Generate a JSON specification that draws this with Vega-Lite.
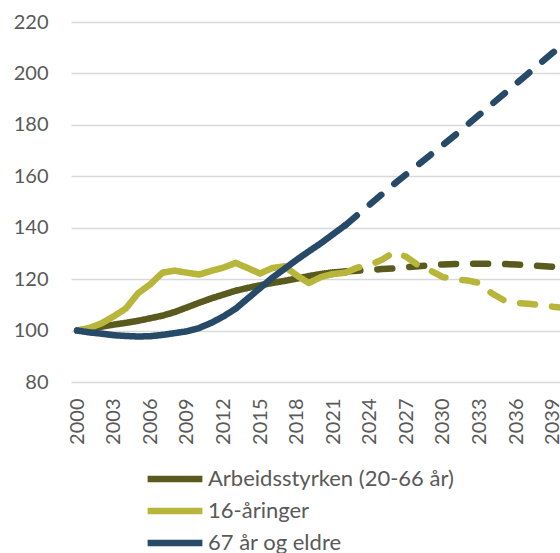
{
  "$schema": "https://vega.github.io/schema/vega-lite/v6.json",
  "width": 489,
  "height": 360,
  "autosize": {"type": "none"},
  "padding": {"left": 71, "top": 22, "right": 0, "bottom": 171},
  "background": "white",
  "config": {
    "view": {"stroke": null},
    "font": "Lato",
    "axis": {"labelFont": "Lato", "labelFontSize": 20, "labelColor": "#595959"}
  },
  "data": {
    "values": [
      {"series": "Arbeidsstyrken (20-66 år)", "phase": "hist", "year": 2000, "value": 100},
      {"series": "Arbeidsstyrken (20-66 år)", "phase": "hist", "year": 2001, "value": 100.6},
      {"series": "Arbeidsstyrken (20-66 år)", "phase": "hist", "year": 2002, "value": 101.5},
      {"series": "Arbeidsstyrken (20-66 år)", "phase": "hist", "year": 2003, "value": 102.3},
      {"series": "Arbeidsstyrken (20-66 år)", "phase": "hist", "year": 2004, "value": 103},
      {"series": "Arbeidsstyrken (20-66 år)", "phase": "hist", "year": 2005, "value": 103.8},
      {"series": "Arbeidsstyrken (20-66 år)", "phase": "hist", "year": 2006, "value": 104.8},
      {"series": "Arbeidsstyrken (20-66 år)", "phase": "hist", "year": 2007, "value": 105.8},
      {"series": "Arbeidsstyrken (20-66 år)", "phase": "hist", "year": 2008, "value": 107.2},
      {"series": "Arbeidsstyrken (20-66 år)", "phase": "hist", "year": 2009, "value": 109},
      {"series": "Arbeidsstyrken (20-66 år)", "phase": "hist", "year": 2010, "value": 110.8},
      {"series": "Arbeidsstyrken (20-66 år)", "phase": "hist", "year": 2011, "value": 112.5},
      {"series": "Arbeidsstyrken (20-66 år)", "phase": "hist", "year": 2012, "value": 114},
      {"series": "Arbeidsstyrken (20-66 år)", "phase": "hist", "year": 2013, "value": 115.5},
      {"series": "Arbeidsstyrken (20-66 år)", "phase": "hist", "year": 2014, "value": 116.6},
      {"series": "Arbeidsstyrken (20-66 år)", "phase": "hist", "year": 2015, "value": 117.6},
      {"series": "Arbeidsstyrken (20-66 år)", "phase": "hist", "year": 2016, "value": 118.5},
      {"series": "Arbeidsstyrken (20-66 år)", "phase": "hist", "year": 2017, "value": 119.3},
      {"series": "Arbeidsstyrken (20-66 år)", "phase": "hist", "year": 2018, "value": 120.2},
      {"series": "Arbeidsstyrken (20-66 år)", "phase": "hist", "year": 2019, "value": 121.2},
      {"series": "Arbeidsstyrken (20-66 år)", "phase": "hist", "year": 2020, "value": 122},
      {"series": "Arbeidsstyrken (20-66 år)", "phase": "hist", "year": 2021, "value": 122.6},
      {"series": "Arbeidsstyrken (20-66 år)", "phase": "hist", "year": 2022, "value": 123},
      {"series": "Arbeidsstyrken (20-66 år)", "phase": "proj", "year": 2022, "value": 123},
      {"series": "Arbeidsstyrken (20-66 år)", "phase": "proj", "year": 2023, "value": 123.3},
      {"series": "Arbeidsstyrken (20-66 år)", "phase": "proj", "year": 2024, "value": 123.6},
      {"series": "Arbeidsstyrken (20-66 år)", "phase": "proj", "year": 2025, "value": 123.9},
      {"series": "Arbeidsstyrken (20-66 år)", "phase": "proj", "year": 2026, "value": 124.2},
      {"series": "Arbeidsstyrken (20-66 år)", "phase": "proj", "year": 2027, "value": 124.6},
      {"series": "Arbeidsstyrken (20-66 år)", "phase": "proj", "year": 2028, "value": 125},
      {"series": "Arbeidsstyrken (20-66 år)", "phase": "proj", "year": 2029, "value": 125.4},
      {"series": "Arbeidsstyrken (20-66 år)", "phase": "proj", "year": 2030, "value": 125.7},
      {"series": "Arbeidsstyrken (20-66 år)", "phase": "proj", "year": 2031, "value": 125.9},
      {"series": "Arbeidsstyrken (20-66 år)", "phase": "proj", "year": 2032, "value": 126},
      {"series": "Arbeidsstyrken (20-66 år)", "phase": "proj", "year": 2033, "value": 126},
      {"series": "Arbeidsstyrken (20-66 år)", "phase": "proj", "year": 2034, "value": 126},
      {"series": "Arbeidsstyrken (20-66 år)", "phase": "proj", "year": 2035, "value": 125.9},
      {"series": "Arbeidsstyrken (20-66 år)", "phase": "proj", "year": 2036, "value": 125.7},
      {"series": "Arbeidsstyrken (20-66 år)", "phase": "proj", "year": 2037, "value": 125.4},
      {"series": "Arbeidsstyrken (20-66 år)", "phase": "proj", "year": 2038, "value": 125.1},
      {"series": "Arbeidsstyrken (20-66 år)", "phase": "proj", "year": 2039, "value": 124.8},
      {"series": "Arbeidsstyrken (20-66 år)", "phase": "proj", "year": 2040, "value": 124.6},
      {"series": "16-åringer", "phase": "hist", "year": 2000, "value": 100},
      {"series": "16-åringer", "phase": "hist", "year": 2001, "value": 101},
      {"series": "16-åringer", "phase": "hist", "year": 2002, "value": 102.8},
      {"series": "16-åringer", "phase": "hist", "year": 2003, "value": 105.5},
      {"series": "16-åringer", "phase": "hist", "year": 2004, "value": 108.6},
      {"series": "16-åringer", "phase": "hist", "year": 2005, "value": 114.5},
      {"series": "16-åringer", "phase": "hist", "year": 2006, "value": 118},
      {"series": "16-åringer", "phase": "hist", "year": 2007, "value": 122.5},
      {"series": "16-åringer", "phase": "hist", "year": 2008, "value": 123.3},
      {"series": "16-åringer", "phase": "hist", "year": 2009, "value": 122.5},
      {"series": "16-åringer", "phase": "hist", "year": 2010, "value": 121.8},
      {"series": "16-åringer", "phase": "hist", "year": 2011, "value": 123.2},
      {"series": "16-åringer", "phase": "hist", "year": 2012, "value": 124.5},
      {"series": "16-åringer", "phase": "hist", "year": 2013, "value": 126.3},
      {"series": "16-åringer", "phase": "hist", "year": 2014, "value": 124.3},
      {"series": "16-åringer", "phase": "hist", "year": 2015, "value": 122.2},
      {"series": "16-åringer", "phase": "hist", "year": 2016, "value": 124.3},
      {"series": "16-åringer", "phase": "hist", "year": 2017, "value": 125},
      {"series": "16-åringer", "phase": "hist", "year": 2018, "value": 121.5},
      {"series": "16-åringer", "phase": "hist", "year": 2019, "value": 118.5},
      {"series": "16-åringer", "phase": "hist", "year": 2020, "value": 120.8},
      {"series": "16-åringer", "phase": "hist", "year": 2021, "value": 122},
      {"series": "16-åringer", "phase": "hist", "year": 2022, "value": 122.5},
      {"series": "16-åringer", "phase": "proj", "year": 2022, "value": 122.5},
      {"series": "16-åringer", "phase": "proj", "year": 2023, "value": 124.5},
      {"series": "16-åringer", "phase": "proj", "year": 2024, "value": 125.5},
      {"series": "16-åringer", "phase": "proj", "year": 2025, "value": 127.5},
      {"series": "16-åringer", "phase": "proj", "year": 2026, "value": 130.5},
      {"series": "16-åringer", "phase": "proj", "year": 2027, "value": 128.7},
      {"series": "16-åringer", "phase": "proj", "year": 2028, "value": 125.3},
      {"series": "16-åringer", "phase": "proj", "year": 2029, "value": 123.3},
      {"series": "16-åringer", "phase": "proj", "year": 2030, "value": 120.8},
      {"series": "16-åringer", "phase": "proj", "year": 2031, "value": 120},
      {"series": "16-åringer", "phase": "proj", "year": 2032, "value": 119.5},
      {"series": "16-åringer", "phase": "proj", "year": 2033, "value": 118.5},
      {"series": "16-åringer", "phase": "proj", "year": 2034, "value": 114.5},
      {"series": "16-åringer", "phase": "proj", "year": 2035, "value": 111.8},
      {"series": "16-åringer", "phase": "proj", "year": 2036, "value": 110.8},
      {"series": "16-åringer", "phase": "proj", "year": 2037, "value": 110.4},
      {"series": "16-åringer", "phase": "proj", "year": 2038, "value": 110},
      {"series": "16-åringer", "phase": "proj", "year": 2039, "value": 109.3},
      {"series": "16-åringer", "phase": "proj", "year": 2040, "value": 108.8},
      {"series": "67 år og eldre", "phase": "hist", "year": 2000, "value": 100},
      {"series": "67 år og eldre", "phase": "hist", "year": 2001, "value": 99.3},
      {"series": "67 år og eldre", "phase": "hist", "year": 2002, "value": 98.8},
      {"series": "67 år og eldre", "phase": "hist", "year": 2003, "value": 98.2},
      {"series": "67 år og eldre", "phase": "hist", "year": 2004, "value": 97.9},
      {"series": "67 år og eldre", "phase": "hist", "year": 2005, "value": 97.7},
      {"series": "67 år og eldre", "phase": "hist", "year": 2006, "value": 97.8},
      {"series": "67 år og eldre", "phase": "hist", "year": 2007, "value": 98.3},
      {"series": "67 år og eldre", "phase": "hist", "year": 2008, "value": 99},
      {"series": "67 år og eldre", "phase": "hist", "year": 2009, "value": 99.7},
      {"series": "67 år og eldre", "phase": "hist", "year": 2010, "value": 101},
      {"series": "67 år og eldre", "phase": "hist", "year": 2011, "value": 103},
      {"series": "67 år og eldre", "phase": "hist", "year": 2012, "value": 105.5},
      {"series": "67 år og eldre", "phase": "hist", "year": 2013, "value": 108.5},
      {"series": "67 år og eldre", "phase": "hist", "year": 2014, "value": 112.5},
      {"series": "67 år og eldre", "phase": "hist", "year": 2015, "value": 116.5},
      {"series": "67 år og eldre", "phase": "hist", "year": 2016, "value": 120.5},
      {"series": "67 år og eldre", "phase": "hist", "year": 2017, "value": 124},
      {"series": "67 år og eldre", "phase": "hist", "year": 2018, "value": 127.5},
      {"series": "67 år og eldre", "phase": "hist", "year": 2019, "value": 130.8},
      {"series": "67 år og eldre", "phase": "hist", "year": 2020, "value": 134},
      {"series": "67 år og eldre", "phase": "hist", "year": 2021, "value": 137.5},
      {"series": "67 år og eldre", "phase": "hist", "year": 2022, "value": 141},
      {"series": "67 år og eldre", "phase": "proj", "year": 2022, "value": 141},
      {"series": "67 år og eldre", "phase": "proj", "year": 2023, "value": 145},
      {"series": "67 år og eldre", "phase": "proj", "year": 2024, "value": 149},
      {"series": "67 år og eldre", "phase": "proj", "year": 2025, "value": 153},
      {"series": "67 år og eldre", "phase": "proj", "year": 2026, "value": 157},
      {"series": "67 år og eldre", "phase": "proj", "year": 2027, "value": 160.8},
      {"series": "67 år og eldre", "phase": "proj", "year": 2028, "value": 164.6},
      {"series": "67 år og eldre", "phase": "proj", "year": 2029, "value": 168.4},
      {"series": "67 år og eldre", "phase": "proj", "year": 2030, "value": 172.2},
      {"series": "67 år og eldre", "phase": "proj", "year": 2031, "value": 176},
      {"series": "67 år og eldre", "phase": "proj", "year": 2032, "value": 180},
      {"series": "67 år og eldre", "phase": "proj", "year": 2033, "value": 184},
      {"series": "67 år og eldre", "phase": "proj", "year": 2034, "value": 188},
      {"series": "67 år og eldre", "phase": "proj", "year": 2035, "value": 192},
      {"series": "67 år og eldre", "phase": "proj", "year": 2036, "value": 196},
      {"series": "67 år og eldre", "phase": "proj", "year": 2037, "value": 200},
      {"series": "67 år og eldre", "phase": "proj", "year": 2038, "value": 204},
      {"series": "67 år og eldre", "phase": "proj", "year": 2039, "value": 208},
      {"series": "67 år og eldre", "phase": "proj", "year": 2040, "value": 212}
    ]
  },
  "mark": {"type": "line", "strokeWidth": 6.5, "strokeCap": "round", "strokeJoin": "round", "clip": true},
  "encoding": {
    "x": {
      "field": "year",
      "type": "quantitative",
      "scale": {"domain": [1999.5, 2039.6], "nice": false, "zero": false},
      "axis": {
        "values": [2000, 2003, 2006, 2009, 2012, 2015, 2018, 2021, 2024, 2027, 2030, 2033, 2036, 2039],
        "format": "d",
        "labelAngle": -90,
        "grid": false,
        "ticks": false,
        "domain": false,
        "labelPadding": 16,
        "labelOverlap": false,
        "labelFlush": false,
        "title": null
      }
    },
    "y": {
      "field": "value",
      "type": "quantitative",
      "scale": {"domain": [80, 220], "nice": false, "zero": false},
      "axis": {
        "values": [80, 100, 120, 140, 160, 180, 200, 220],
        "grid": true,
        "gridColor": "#d9d9d9",
        "gridWidth": 1.5,
        "ticks": false,
        "domain": false,
        "labelPadding": 23,
        "labelFlush": false,
        "title": null
      }
    },
    "color": {
      "field": "series",
      "type": "nominal",
      "scale": {
        "domain": ["Arbeidsstyrken (20-66 år)", "16-åringer", "67 år og eldre"],
        "range": ["#5a5a1e", "#b7b63b", "#264a67"]
      },
      "legend": {
        "orient": "none",
        "legendX": 73,
        "legendY": 447,
        "direction": "vertical",
        "title": null,
        "symbolType": "stroke",
        "symbolSize": 3000,
        "symbolStrokeWidth": 6.5,
        "labelFont": "Lato",
        "labelFontSize": 22,
        "labelColor": "#595959",
        "labelLimit": 400,
        "labelOffset": 2,
        "clipHeight": 20,
        "rowPadding": 10
      }
    },
    "strokeDash": {
      "field": "phase",
      "type": "nominal",
      "scale": {"domain": ["hist", "proj"], "range": [[1, 0], [15, 17]]},
      "legend": null
    }
  }
}
